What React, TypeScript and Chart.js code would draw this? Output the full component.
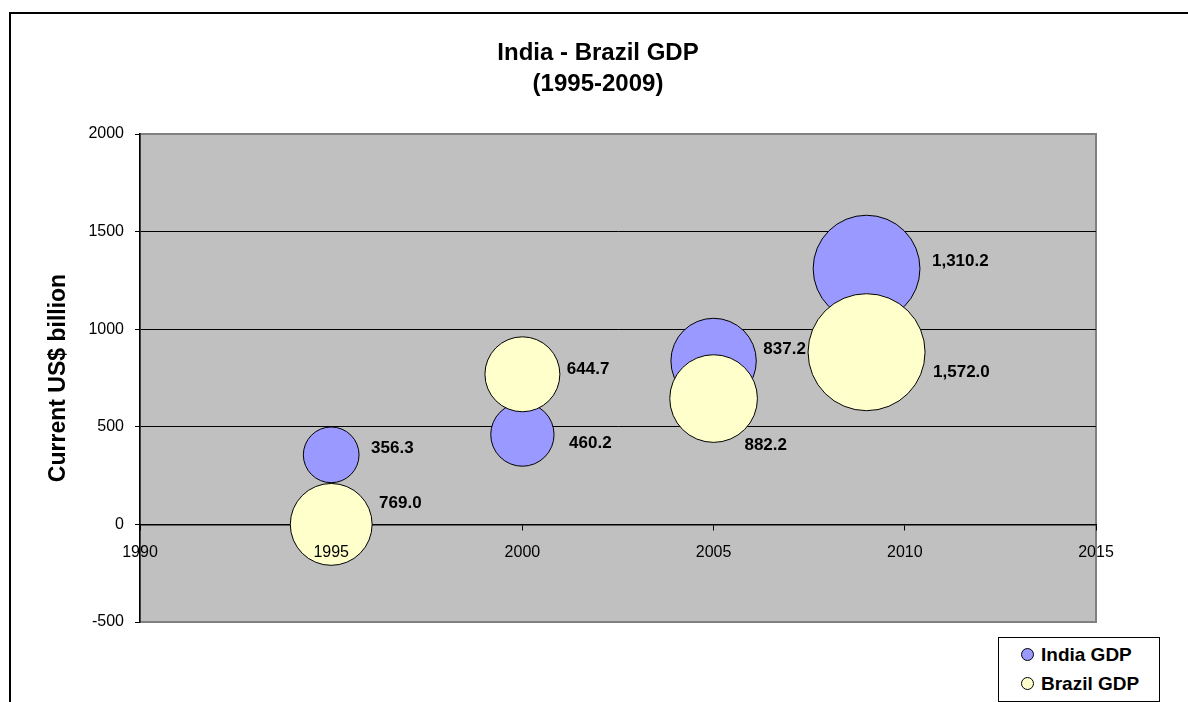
import React, { useEffect, useRef } from "react";
import { Chart, registerables } from "chart.js";

Chart.register(...registerables);

// ---- data ----
const years = [1995, 2000, 2005, 2009];
const indiaGdp = [356.3, 460.2, 837.2, 1310.2];
const indiaY = [356.3, 460.2, 837.2, 1310.2];
const brazilGdp = [769.0, 644.7, 882.2, 1572.0];
const brazilY = [0, 769.0, 644.7, 882.2];
const xTicks = [1990, 1995, 2000, 2005, 2010, 2015];
const yTicks = [-500, 0, 500, 1000, 1500, 2000];
const titleLines = ["India - Brazil GDP", "(1995-2009)"];
const yTitle = "Current US$ billion";
const seriesNames = ["India GDP", "Brazil GDP"];

// ---- style ----
const FONT = "Arial, 'Liberation Sans', sans-serif";
const INDIA_COLOR = "#9999FF";
const BRAZIL_COLOR = "#FFFFCC";
const MAX_R = 58.5;
const maxSize = Math.max(...indiaGdp, ...brazilGdp);
const radiusOf = (s: number) => MAX_R * Math.sqrt(s / maxSize);
// label offsets: dx from bubble right edge, dy from bubble center
const labelOffsets = [
  [[12, -7], [15, 9], [7, -12], [12, -7]],
  [[7, -21], [7, -5], [-13, 47], [8, 20]],
];
const sizes = [indiaGdp, brazilGdp];
const TITLE_CENTER_X = 598;
const TITLE_LINE_Y = [53, 84];

const fmt = (v: number) =>
  v.toLocaleString("en-US", { minimumFractionDigits: 1, maximumFractionDigits: 1 });

const plotBgPlugin = {
  id: "plotBg",
  beforeDraw(chart: any) {
    const { ctx, chartArea: a } = chart;
    ctx.save();
    ctx.fillStyle = "#C0C0C0";
    ctx.fillRect(a.left, a.top, a.right - a.left, a.bottom - a.top);
    ctx.strokeStyle = "#808080";
    ctx.lineWidth = 2;
    ctx.strokeRect(a.left, a.top, a.right - a.left, a.bottom - a.top);
    ctx.restore();
    // title
    ctx.save();
    ctx.font = `bold 24px ${FONT}`;
    ctx.fillStyle = "#000";
    ctx.textAlign = "center";
    ctx.textBaseline = "middle";
    titleLines.forEach((t, i) => ctx.fillText(t, TITLE_CENTER_X, TITLE_LINE_Y[i]));
    ctx.restore();
  },
};

const labelPlugin = {
  id: "bubbleLabels",
  afterDatasetsDraw(chart: any) {
    const { ctx } = chart;
    ctx.save();
    ctx.font = `bold 17px ${FONT}`;
    ctx.fillStyle = "#000";
    ctx.textAlign = "left";
    ctx.textBaseline = "middle";
    chart.data.datasets.forEach((ds: any, di: number) => {
      const meta = chart.getDatasetMeta(di);
      meta.data.forEach((el: any, i: number) => {
        const r = ds.data[i].r;
        const [dx, dy] = labelOffsets[di][i];
        ctx.fillText(fmt(sizes[di][i]), el.x + r + dx, el.y + dy);
      });
    });
    ctx.restore();
  },
};

export default function App() {
  const ref = useRef<HTMLCanvasElement>(null);

  useEffect(() => {
    if (!ref.current) return;
    const chart = new Chart(ref.current, {
      type: "bubble",
      data: {
        datasets: [
          {
            label: seriesNames[0],
            data: years.map((x, i) => ({ x, y: indiaY[i], r: radiusOf(indiaGdp[i]) })),
            backgroundColor: INDIA_COLOR,
            borderColor: "#000",
            borderWidth: 1,
            order: 1,
            clip: false as any,
          },
          {
            label: seriesNames[1],
            data: years.map((x, i) => ({ x, y: brazilY[i], r: radiusOf(brazilGdp[i]) })),
            backgroundColor: BRAZIL_COLOR,
            borderColor: "#000",
            borderWidth: 1,
            order: 0,
            clip: false as any,
          },
        ],
      },
      options: {
        animation: false,
        responsive: false,
        maintainAspectRatio: false,
        layout: { padding: { top: 134, left: 42, right: 92, bottom: 80 } },
        plugins: {
          legend: { display: false },
          tooltip: { enabled: false },
          title: { display: false },
        },
        scales: {
          x: {
            type: "linear",
            position: { y: 0 } as any,
            min: xTicks[0],
            max: xTicks[xTicks.length - 1],
            afterBuildTicks: (scale: any) => {
              scale.ticks = xTicks.map((v) => ({ value: v }));
            },
            ticks: {
              color: "#000",
              font: { family: FONT, size: 16 },
              padding: 14,
              maxRotation: 0,
              autoSkip: false,
              z: 1,
              callback: (v: any) => String(v),
            },
            grid: {
              drawOnChartArea: false,
              drawTicks: true,
              tickLength: 5,
              tickColor: "#000",
            },
            border: { display: true, color: "#000", width: 1.5 },
          },
          y: {
            type: "linear",
            min: yTicks[0],
            max: yTicks[yTicks.length - 1],
            afterBuildTicks: (scale: any) => {
              scale.ticks = yTicks.map((v) => ({ value: v }));
            },
            afterFit: (scale: any) => {
              scale.width = 98;
            },
            ticks: {
              color: "#000",
              font: { family: FONT, size: 16 },
              padding: 11,
              callback: (v: any) => String(v),
            },
            grid: {
              color: (c: any) =>
                c.tick && (c.tick.value === yTicks[0] || c.tick.value === yTicks[yTicks.length - 1])
                  ? "rgba(0,0,0,0)"
                  : "#000",
              lineWidth: 1,
              tickColor: "#000",
              tickLength: 5,
            },
            border: { display: true, color: "#000", width: 1.5 },
            title: {
              display: true,
              text: yTitle,
              color: "#000",
              font: { family: FONT, size: 23, weight: "bold", lineHeight: 1.2 },
              padding: { top: 3, bottom: 3 },
            },
          },
        },
      },
      plugins: [plotBgPlugin, labelPlugin],
    });
    return () => chart.destroy();
  }, []);

  const legendItem = (name: string, color: string) => (
    <div style={{ display: "flex", alignItems: "center", height: 29 }}>
      <span
        style={{
          display: "inline-block",
          width: 11,
          height: 11,
          borderRadius: "50%",
          background: color,
          border: "1px solid #000",
          marginLeft: 22,
          marginRight: 7,
        }}
      />
      <span style={{ font: `bold 19px ${FONT}`, color: "#000" }}>{name}</span>
    </div>
  );

  return (
    <div
      style={{
        position: "fixed",
        left: 0,
        top: 0,
        width: 1188,
        height: 702,
        overflow: "hidden",
        background: "#fff",
      }}
    >
      <div
        style={{
          position: "absolute",
          left: 9,
          top: 12,
          width: 1300,
          height: 1000,
          border: "2px solid #000",
          boxSizing: "border-box",
        }}
      />
      <canvas
        ref={ref}
        width={1188}
        height={702}
        style={{ position: "absolute", left: 0, top: 0, width: 1188, height: 702 }}
      />
      <div
        style={{
          position: "absolute",
          left: 998,
          top: 637,
          width: 162,
          height: 65,
          border: "1.5px solid #000",
          boxSizing: "border-box",
          background: "#fff",
          paddingTop: 2,
        }}
      >
        {legendItem(seriesNames[0], INDIA_COLOR)}
        {legendItem(seriesNames[1], BRAZIL_COLOR)}
      </div>
    </div>
  );
}
